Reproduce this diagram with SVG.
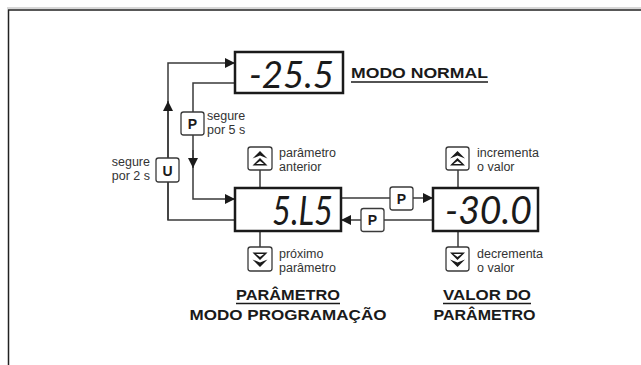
<svg xmlns="http://www.w3.org/2000/svg" width="641" height="365" viewBox="0 0 641 365">
<style>
.conn{fill:none;stroke:#3a3a3a;stroke-width:1.5}
.disp{fill:#fff;stroke:#1a1a1a;stroke-width:2.5}
.btn{fill:#fff;stroke:#3a3a3a;stroke-width:1.3}
.seg{font-family:Lato,"Liberation Sans","DejaVu Sans",sans-serif;font-style:italic;font-weight:400;fill:#1a1a1a;text-anchor:end}
.key{font-family:"Liberation Sans","DejaVu Sans",sans-serif;font-weight:bold;font-size:14px;fill:#1a1a1a;text-anchor:middle}
.lbl{font-family:"Liberation Sans","DejaVu Sans",sans-serif;font-size:12.5px;fill:#333}
.ttl{font-family:"Liberation Sans","DejaVu Sans",sans-serif;font-weight:bold;font-size:15.5px;fill:#1a1a1a;text-anchor:middle}
.icon{fill:#1a1a1a}
</style>
<defs>
<marker id="ah" viewBox="0 0 10 10" refX="10" refY="5" markerWidth="14" markerHeight="10" markerUnits="userSpaceOnUse" orient="auto">
<path d="M0,0 L10,5 L0,10 Z" fill="#1a1a1a"/>
</marker>
<g id="upicon">
<path d="M-7.5,-0.5 L0,-8 L7.5,-0.5 L0,-3.5 Z"/>
<path d="M-7.5,6.5 L0,-1 L7.5,6.5 Z M-4,5 L0,2 L4,5 Z" fill-rule="evenodd"/>
</g>
</defs>
<rect x="0" y="0" width="641" height="365" fill="#fff"/>
<line x1="7" y1="8" x2="641" y2="8" stroke="#b0b0b0" stroke-width="1"/>
<path d="M8.5,365 V10 H641" fill="none" stroke="#222" stroke-width="1.5"/>

<g id="connectors">
<path class="conn" d="M236,220 H168 V63 H235" marker-end="url(#ah)"/>
<path class="conn" d="M168,220 V101" marker-end="url(#ah)"/>
<path class="conn" d="M235,83 H193 V199 H235" marker-end="url(#ah)"/>
<path class="conn" d="M193,150 V168" marker-end="url(#ah)"/>
<path class="conn" d="M341,198 H433" marker-end="url(#ah)"/>
<path class="conn" d="M433,220 H341" marker-end="url(#ah)"/>
<line class="conn" x1="260" y1="170" x2="260" y2="188"/>
<line class="conn" x1="260" y1="231" x2="260" y2="247"/>
<line class="conn" x1="458" y1="170" x2="458" y2="188"/>
<line class="conn" x1="458" y1="231" x2="458" y2="247"/>
</g>

<g id="display-normal">
<rect class="disp" x="235" y="52" width="108" height="41"/>
<text class="seg" x="334" y="87.5" font-size="36" textLength="85" lengthAdjust="spacingAndGlyphs">-25.5</text>
</g>
<g id="title-normal">
<text x="351" y="78" font-family="Liberation Sans, DejaVu Sans, sans-serif" font-weight="bold" font-size="15.5" fill="#1a1a1a" textLength="137" lengthAdjust="spacingAndGlyphs">MODO NORMAL</text>
<line x1="351" y1="82" x2="488" y2="82" stroke="#1a1a1a" stroke-width="1.3"/>
</g>

<g id="key-u">
<rect class="btn" x="156" y="158" width="23" height="24" rx="2.5"/>
<text class="key" x="167.5" y="175.5">U</text>
<text class="lbl" x="150" y="166" text-anchor="end">segure</text>
<text class="lbl" x="150" y="180" text-anchor="end">por 2 s</text>
</g>

<g id="key-p-hold">
<rect class="btn" x="181" y="112" width="23" height="23" rx="2.5"/>
<text class="key" x="192.5" y="128.5">P</text>
<text class="lbl" x="207" y="120">segure</text>
<text class="lbl" x="207" y="134">por 5 s</text>
</g>

<g id="display-param">
<rect class="disp" x="235" y="188" width="106" height="43"/>
<text class="seg" x="333" y="225" font-size="41" textLength="61" lengthAdjust="spacingAndGlyphs">5.L5</text>
</g>

<g id="key-param-up">
<rect class="btn" x="248" y="147" width="24" height="23" rx="2.5"/>
<use href="#upicon" class="icon" transform="translate(260,159)"/>
<text class="lbl" x="279" y="157">parâmetro</text>
<text class="lbl" x="279" y="171">anterior</text>
</g>
<g id="key-param-down">
<rect class="btn" x="248" y="247" width="24" height="24" rx="2.5"/>
<use href="#upicon" class="icon" transform="translate(260,259) scale(1,-1)"/>
<text class="lbl" x="279" y="257.5">próximo</text>
<text class="lbl" x="279" y="271.5">parâmetro</text>
</g>

<g id="key-p-fwd">
<rect class="btn" x="390" y="187" width="23" height="23" rx="2.5"/>
<text class="key" x="401.5" y="203.5">P</text>
</g>
<g id="key-p-back">
<rect class="btn" x="361" y="208.5" width="23" height="23" rx="2.5"/>
<text class="key" x="372.5" y="225">P</text>
</g>

<g id="display-value">
<rect class="disp" x="433" y="188" width="105" height="43"/>
<text class="seg" x="532" y="223.5" font-size="39" textLength="87" lengthAdjust="spacingAndGlyphs">-30.0</text>
</g>

<g id="key-value-up">
<rect class="btn" x="446" y="147" width="23" height="23" rx="2.5"/>
<use href="#upicon" class="icon" transform="translate(457.5,159)"/>
<text class="lbl" x="477" y="157">incrementa</text>
<text class="lbl" x="477" y="171">o valor</text>
</g>
<g id="key-value-down">
<rect class="btn" x="446" y="247" width="23" height="24" rx="2.5"/>
<use href="#upicon" class="icon" transform="translate(457.5,259) scale(1,-1)"/>
<text class="lbl" x="477" y="257.5">decrementa</text>
<text class="lbl" x="477" y="271.5">o valor</text>
</g>

<g id="title-param">
<text class="ttl" x="288" y="300" textLength="104" lengthAdjust="spacingAndGlyphs">PARÂMETRO</text>
<line x1="236" y1="303.5" x2="340" y2="303.5" stroke="#1a1a1a" stroke-width="1.3"/>
<text class="ttl" x="288" y="320" textLength="197" lengthAdjust="spacingAndGlyphs">MODO PROGRAMAÇÃO</text>
</g>
<g id="title-value">
<text class="ttl" x="487" y="300" textLength="88" lengthAdjust="spacingAndGlyphs">VALOR DO</text>
<line x1="443" y1="303.5" x2="531" y2="303.5" stroke="#1a1a1a" stroke-width="1.3"/>
<text class="ttl" x="484.5" y="320" textLength="102" lengthAdjust="spacingAndGlyphs">PARÂMETRO</text>
</g>
</svg>
